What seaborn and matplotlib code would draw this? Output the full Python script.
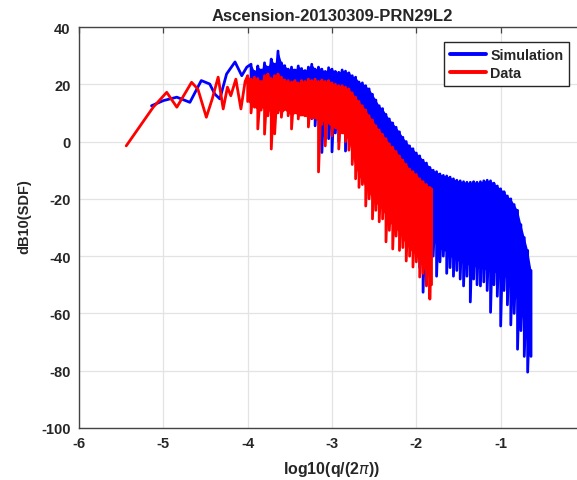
import matplotlib
matplotlib.use("Agg")
import matplotlib.pyplot as plt
import numpy as np
import pandas as pd
import seaborn as sns

# ---------------- data ----------------
title = "Ascension-20130309-PRN29L2"
series_names = ["Simulation", "Data"]
x_ticks = [-6, -5, -4, -3, -2, -1]
y_ticks = [40, 20, 0, -20, -40, -60, -80, -100]

# Simulation: sparse low-frequency part
sim_x_sparse = [-5.14, -5.00, -4.84, -4.685, -4.55, -4.45, -4.39, -4.33, -4.25, -4.15, -4.07, -4.01]
sim_y_sparse = [12.5, 14.3, 15.5, 13.7, 21.3, 20.1, 16.6, 14.9, 23.6, 27.8, 23.0, 26.0]

# Simulation: dense part (local max, local min, lower edge of the solid band)
sim_x_dense = [-3.96, -3.92, -3.88, -3.84, -3.80, -3.76, -3.72, -3.68, -3.64, -3.60,
               -3.56, -3.52, -3.48, -3.44, -3.40, -3.36, -3.32, -3.28, -3.24, -3.20,
               -3.16, -3.12, -3.08, -3.04, -3.00, -2.96, -2.92, -2.88, -2.84, -2.80,
               -2.76, -2.72, -2.68, -2.64, -2.60, -2.56, -2.52, -2.48, -2.44, -2.40,
               -2.36, -2.32, -2.28, -2.24, -2.20, -2.16, -2.12, -2.08, -2.04, -2.00,
               -1.96, -1.92, -1.88, -1.84, -1.80, -1.76, -1.72, -1.68, -1.64, -1.60,
               -1.56, -1.52, -1.48, -1.44, -1.40, -1.36, -1.32, -1.28, -1.24, -1.20,
               -1.16, -1.12, -1.08, -1.04, -1.00, -0.96, -0.92, -0.88, -0.84, -0.80,
               -0.76, -0.72, -0.68, -0.64]
sim_hi = [27.0, 24.5, 26.4, 25.0, 27.5, 26.0, 28.8, 27.0, 31.6, 27.5,
          26.5, 25.3, 26.0, 25.0, 26.4, 25.5, 24.8, 26.0, 27.0, 25.3,
          26.0, 25.3, 24.5, 25.8, 25.3, 24.5, 24.2, 25.0, 24.6, 24.0,
          23.0, 22.5, 20.8, 20.5, 19.5, 18.4, 16.5, 14.5, 12.5, 11.5,
          9.5, 7.9, 6.5, 5.0, 3.4, 1.5, 0.0, -1.5, -2.5, -4.0,
          -5.0, -6.5, -7.5, -9.0, -10.0, -10.5, -11.3, -11.8, -12.0, -12.4,
          -13.0, -13.5, -13.7, -14.0, -14.2, -14.2, -14.0, -14.2, -14.0, -13.7,
          -13.5, -13.7, -14.5, -15.5, -16.5, -17.5, -19.0, -20.0, -22.0, -24.0,
          -29.0, -33.5, -38.0, -45.0]
sim_lo = [16.0, 14.0, 17.0, 13.0, 15.0, 12.0, 16.0, 14.0, 13.0, 16.0,
          14.0, 15.0, 12.0, 15.0, 13.0, 14.0, 12.0, 14.0, 8.0, 5.5,
          10.0, -3.8, 4.0, 1.0, -3.6, 3.0, 0.0, 4.0, -3.3, 2.0,
          0.0, -2.0, -6.0, -4.0, -8.0, -10.0, -14.0, -12.0, -18.0, -20.0,
          -22.0, -24.0, -26.0, -28.0, -30.0, -32.0, -34.0, -36.0, -38.0, -40.0,
          -44.0, -52.6, -50.0, -42.0, -40.0, -47.0, -42.0, -40.0, -46.0, -44.0,
          -47.0, -45.0, -48.0, -50.4, -47.0, -56.0, -48.0, -50.0, -50.4, -49.0,
          -52.0, -59.6, -50.0, -54.0, -64.4, -52.0, -57.0, -64.0, -60.0, -72.5,
          -66.0, -75.0, -80.5, -75.0]
sim_body = [16.0, 15.0, 16.0, 15.0, 15.0, 14.0, 15.0, 14.0, 14.0, 15.0,
            14.0, 14.0, 13.0, 14.0, 13.0, 13.0, 12.0, 12.0, 10.0, 9.0,
            9.0, 8.0, 7.0, 6.0, 5.0, 5.0, 4.0, 4.0, 3.0, 2.0,
            0.0, -3.0, -6.0, -8.0, -10.0, -12.0, -14.0, -15.0, -18.0, -20.0,
            -22.0, -24.0, -26.0, -28.0, -30.0, -32.0, -34.0, -35.0, -36.0, -37.0,
            -38.0, -38.0, -37.0, -36.0, -35.0, -36.0, -37.5, -38.0, -38.5, -40.0,
            -41.0, -41.5, -42.0, -42.5, -43.0, -43.0, -43.5, -44.0, -44.0, -44.5,
            -45.0, -45.0, -45.5, -46.0, -46.0, -47.0, -48.0, -50.0, -53.0, -56.0,
            -60.0, -64.0, -68.0, -72.0]

# Data: sparse low-frequency part
dat_x_sparse = [-5.44, -5.12, -4.96, -4.84, -4.665, -4.59, -4.49, -4.42, -4.35, -4.29,
                -4.24, -4.20, -4.14, -4.08, -4.03]
dat_y_sparse = [-1.5, 12.0, 17.2, 12.0, 20.7, 18.3, 8.5, 14.9, 22.5, 11.4,
                19.0, 16.0, 21.8, 11.4, 21.0]

# Data: dense part (local max, local min, lower edge of the solid band)
dat_x_dense = [-4.00, -3.96, -3.92, -3.88, -3.84, -3.80, -3.76, -3.72, -3.68, -3.64,
               -3.60, -3.56, -3.52, -3.48, -3.44, -3.40, -3.36, -3.32, -3.28, -3.24,
               -3.20, -3.16, -3.12, -3.08, -3.04, -3.00, -2.96, -2.92, -2.88, -2.84,
               -2.80, -2.76, -2.72, -2.68, -2.64, -2.60, -2.56, -2.52, -2.48, -2.44,
               -2.40, -2.36, -2.32, -2.28, -2.24, -2.20, -2.16, -2.12, -2.08, -2.04,
               -2.00, -1.96, -1.92, -1.88, -1.84, -1.82]
dat_hi = [23.0, 21.8, 22.5, 22.0, 21.0, 23.0, 23.6, 22.0, 23.0, 23.6,
          22.5, 21.5, 21.3, 20.8, 21.3, 20.5, 21.3, 21.0, 21.8, 21.3,
          21.8, 21.0, 21.5, 21.0, 21.3, 20.5, 20.0, 19.5, 19.5, 19.0,
          18.4, 17.0, 15.5, 14.0, 12.5, 11.0, 9.0, 7.5, 5.5, 4.0,
          2.5, 1.0, -0.8, -2.0, -3.5, -5.0, -6.5, -8.0, -9.6, -10.5,
          -11.5, -13.0, -14.0, -15.0, -16.0, -16.5]
dat_lo = [14.0, 10.0, 12.0, 4.4, 11.0, 2.6, 9.0, -2.6, 2.7, 10.0,
          8.5, 12.0, 9.0, 4.4, 10.0, 7.9, 11.0, 9.0, 5.1, 10.0,
          9.0, -10.6, 6.0, -1.5, 7.0, 2.0, 5.0, -2.6, 3.0, 0.0,
          -3.0, -8.0, -13.0, -16.0, -15.0, -22.5, -20.0, -27.0, -24.0, -28.0,
          -27.0, -35.0, -31.0, -37.5, -33.0, -38.0, -37.0, -41.7, -40.0, -43.8,
          -42.0, -47.3, -46.0, -50.4, -55.0, -50.0]
dat_body = [14.0, 13.0, 12.0, 11.0, 12.0, 11.0, 11.0, 10.0, 10.0, 11.0,
            10.0, 11.0, 10.0, 9.0, 10.0, 9.0, 9.0, 9.0, 8.0, 8.0,
            8.0, 7.0, 7.0, 7.0, 6.0, 5.0, 4.5, 4.0, 3.0, 2.0,
            0.0, -5.0, -9.0, -12.0, -14.0, -16.0, -18.0, -20.0, -21.5, -22.5,
            -24.0, -26.0, -28.0, -29.5, -30.5, -32.0, -34.0, -36.0, -37.5, -38.6,
            -40.0, -42.0, -44.0, -46.0, -47.0, -47.0]


def build(xs, ys, xd, hi, lo):
    """Sparse points followed by the dense max/min pairs, in drawing order."""
    xx, yy = list(xs), list(ys)
    for x, h, l in zip(xd, hi, lo):
        xx += [x, x]
        yy += [h, l]
    return pd.DataFrame({"x": xx, "y": yy})


sim_df = build(sim_x_sparse, sim_y_sparse, sim_x_dense, sim_hi, sim_lo)
dat_df = build(dat_x_sparse, dat_y_sparse, dat_x_dense, dat_hi, dat_lo)

# ---------------- figure ----------------
sns.set_style("white")
plt.rcParams["font.family"] = ["Liberation Sans", "DejaVu Sans"]
plt.rcParams["mathtext.fontset"] = "dejavusans"

BLUE, RED = "#0000ff", "#ff0000"
W, H = 577, 481
fig = plt.figure(figsize=(W / 100, H / 100), dpi=100)
ax_left, ax_right, ax_top, ax_bottom = 79, 585, 28, 429
ax = fig.add_axes([ax_left / W, 1 - ax_bottom / H, (ax_right - ax_left) / W, (ax_bottom - ax_top) / H])

ax.fill_between(sim_x_dense, sim_hi, sim_body, color=BLUE, lw=0, zorder=2)
sns.lineplot(data=sim_df, x="x", y="y", sort=False, estimator=None, color=BLUE,
             lw=2.0, ax=ax, label=series_names[0], zorder=2)
ax.fill_between(dat_x_dense, dat_hi, dat_body, color=RED, lw=0, zorder=3)
sns.lineplot(data=dat_df, x="x", y="y", sort=False, estimator=None, color=RED,
             lw=2.0, ax=ax, label=series_names[1], zorder=3)

ax.set_xlim(-6, 0)
ax.set_ylim(-100, 40)
ax.set_xticks(x_ticks)
ax.set_yticks(y_ticks)
ax.set_xticklabels([str(t) for t in x_ticks], fontweight="bold", fontsize=10.5)
ax.set_yticklabels([str(t) for t in y_ticks], fontweight="bold", fontsize=10.5)
ax.grid(True, color="#e3e3e3", lw=0.9)
ax.set_axisbelow(True)
for s in ax.spines.values():
    s.set_color("#444444")
    s.set_linewidth(1.0)
ax.tick_params(direction="in", length=4, width=0.9, color="#444444",
               top=True, right=True, labelcolor="#262626", pad=6)

ax.set_title(title, fontweight="bold", fontsize=12, color="#262626", pad=5)
ax.set_xlabel(r"log10(q/(2$\pi$))", fontweight="bold", fontsize=11.5, color="#262626", labelpad=6)
ax.set_ylabel("dB10(SDF)", fontweight="bold", fontsize=10.5, color="#262626")
ax.yaxis.set_label_coords(-0.094, 0.53)

leg = ax.legend(loc="upper right", bbox_to_anchor=(569 / W, 1 - 43 / H),
                bbox_transform=fig.transFigure, borderaxespad=0, frameon=True,
                fancybox=False, edgecolor="#262626", framealpha=1,
                prop={"weight": "bold", "size": 10.3}, handlelength=2.5,
                handletextpad=0.3, borderpad=0.4, labelspacing=0.3)
leg.get_frame().set_linewidth(1.0)
for line in leg.get_lines():
    line.set_linewidth(2.8)

fig.savefig("out.png", dpi=100)
